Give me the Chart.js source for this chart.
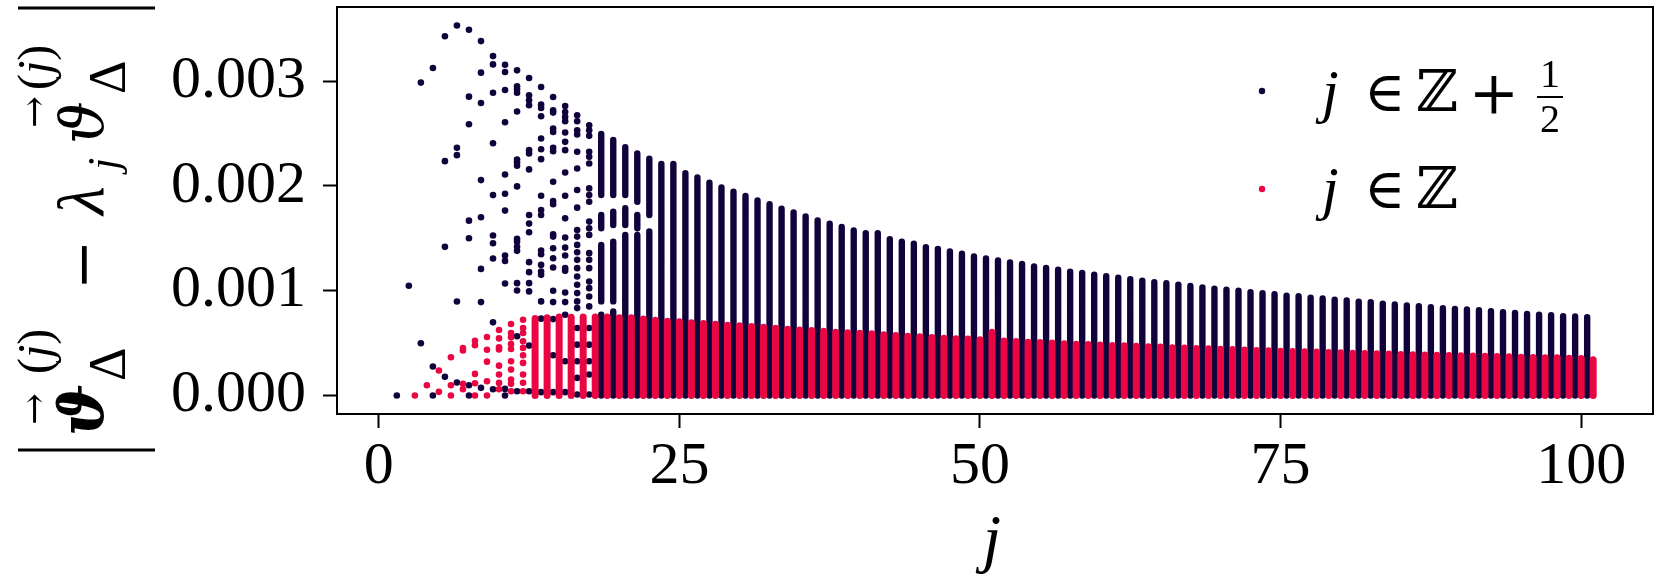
<!DOCTYPE html>
<html lang="en">
<head>
<meta charset="UTF-8">
<title>Residual vs j</title>
<style>
  html, body { margin: 0; padding: 0; background: #fff; }
  #wrap { width: 1661px; height: 582px; }
</style>
<script src="https://cdn.jsdelivr.net/npm/chart.js"></script>
</head>
<body>
<div id="wrap"><canvas id="c" width="1661" height="582"></canvas></div>
<script>
// all values in units of 1e-3

// j in Z + 1/2, low j: single points per column
const navyPointJ = [1.5, 2.5, 3.5, 4.5, 5.5, 6.5, 7.5, 8.5, 9.5, 10.5, 11.5, 12.5, 13.5, 14.5, 15.5, 16.5, 17.5];
const navyPointVals = [
  [0],
  [1.047],
  [2.985, 0.498],
  [3.124, 0.276, 0],
  [3.428, 2.236, 1.418, 0.178],
  [3.530, 2.363, 2.293, 0.897, 0.124],
  [3.489, 2.851, 2.588, 1.668, 1.500, 0.098, 0],
  [3.381, 3.080, 2.791, 2.055, 1.700, 1.208, 0.891, 0.073],
  [3.238, 3.159, 2.889, 2.407, 1.912, 1.526, 1.453, 1.307, 0.698, 0.060],
  [3.156, 3.086, 2.915, 2.607, 2.109, 1.925, 1.764, 1.335, 1.284, 1.069, 0.063, 0],
  [3.102, 2.950, 2.921, 2.889, 2.709, 2.252, 2.226, 2.192, 1.995, 1.494, 1.468, 1.418, 1.380, 1.072, 1.002, 0.565, 0.041],
  [3.029, 2.864, 2.816, 2.769, 2.341, 2.309, 2.157, 1.722, 1.640, 1.557, 1.272, 1.177, 1.072, 0.993, 0.476, 0.041],
  [2.943, 2.775, 2.743, 2.664, 2.452, 2.350, 2.255, 1.906, 1.770, 1.722, 1.383, 1.348, 1.246, 1.183, 1.151, 0.898, 0.733, 0.032],
  [2.848, 2.721, 2.699, 2.547, 2.515, 2.363, 2.331, 2.039, 1.855, 1.824, 1.538, 1.516, 1.405, 1.310, 1.221, 0.999, 0.891, 0.729, 0.384, 0.032],
  [2.762, 2.705, 2.658, 2.617, 2.509, 2.420, 2.341, 2.128, 1.906, 1.690, 1.507, 1.411, 1.335, 1.215, 1.189, 0.983, 0.891, 0.771, 0.327, 0.032],
  [2.674, 2.617, 2.531, 2.490, 2.325, 2.166, 1.960, 1.792, 1.579, 1.516, 1.437, 1.367, 1.294, 1.215, 1.136, 1.056, 0.977, 0.898, 0.834, 0.644, 0.485, 0.327, 0.168, 0.010],
  [2.578, 2.531, 2.477, 2.325, 2.277, 2.214, 1.976, 1.912, 1.849, 1.659, 1.595, 1.532, 1.358, 1.294, 1.215, 1.088, 1.024, 0.945, 0.850, 0.644, 0.485, 0.327, 0.200, 0.010]
];

// j in Z + 1/2, middle j: columns with gaps, [low, high] runs of dots
const navySpanJ = [18.5, 19.5, 20.5, 21.5, 22.5];
const navySpans = [
  [[1.912, 2.495], [1.595, 1.722], [0.898, 1.437], [0, 0.771]],
  [[1.912, 2.437], [1.627, 1.754], [0.898, 1.468], [0, 0.802]],
  [[1.912, 2.370], [1.627, 1.786], [0, 1.532]],
  [[1.849, 2.310], [1.595, 1.722], [0, 1.532]],
  [[1.722, 2.260], [0, 1.564]]
];

// j in Z + 1/2 from 23.5 on: dense columns from 0 up to the top value
const navyColStart = 23.5;
const navyColTop = [
  2.21, 2.21, 2.12, 2.08, 2.03, 1.985, 1.945, 1.904, 1.86, 1.825,
  1.781, 1.746, 1.708, 1.670, 1.638, 1.607, 1.575, 1.549, 1.549, 1.492,
  1.467, 1.448, 1.416, 1.397, 1.375, 1.353, 1.327, 1.308, 1.289, 1.270,
  1.254, 1.232, 1.216, 1.201, 1.182, 1.169, 1.153, 1.137, 1.124, 1.109,
  1.096, 1.080, 1.071, 1.058, 1.045, 1.032, 1.020, 1.010, 1.001, 0.985,
  0.975, 0.966, 0.953, 0.947, 0.934, 0.925, 0.915, 0.906, 0.896, 0.890,
  0.877, 0.868, 0.858, 0.852, 0.842, 0.833, 0.826, 0.820, 0.814, 0.804,
  0.795, 0.788, 0.779, 0.772, 0.766, 0.757, 0.753, 0.747
];

// j in Z, low j: single points
const redPointJ = [3, 4, 5, 6, 7, 8, 9, 10, 11, 12];
const redPointVals = [
  [0],
  [0.098],
  [0.238, 0.035],
  [0.365, 0.098, 0],
  [0.453, 0.430, 0.111, 0.060],
  [0.523, 0.480, 0.206, 0.117, 0],
  [0.558, 0.437, 0.323, 0.136, 0],
  [0.625, 0.545, 0.460, 0.440, 0.285, 0.200, 0.120, 0.060],
  [0.682, 0.596, 0.555, 0.492, 0.444, 0.327, 0.247, 0.152, 0.111, 0.041],
  [0.723, 0.644, 0.596, 0.517, 0.454, 0.384, 0.311, 0.200, 0.121, 0.041]
];

// j in Z from 13 on: dense columns
const redColStart = 13;
const redColTop = [
  0.735, 0.741, 0.750, 0.747, 0.750, 0.750, 0.750, 0.741, 0.741, 0.731,
  0.719, 0.709, 0.703, 0.693, 0.687, 0.680, 0.671, 0.665, 0.658, 0.652,
  0.642, 0.633, 0.626, 0.620, 0.614, 0.604, 0.598, 0.595, 0.589, 0.579,
  0.572, 0.566, 0.560, 0.554, 0.547, 0.541, 0.538, 0.531, 0.604, 0.519,
  0.516, 0.509, 0.506, 0.500, 0.493, 0.490, 0.487, 0.481, 0.478, 0.474,
  0.471, 0.465, 0.462, 0.455, 0.452, 0.449, 0.446, 0.442, 0.439, 0.433,
  0.430, 0.427, 0.423, 0.420, 0.417, 0.414, 0.411, 0.408, 0.404, 0.401,
  0.398, 0.395, 0.392, 0.389, 0.386, 0.385, 0.382, 0.379, 0.376, 0.374,
  0.371, 0.369, 0.366, 0.363, 0.361, 0.359, 0.356, 0.354, 0.340
];

const xTicks = [0, 25, 50, 75, 100];
const yTicks = [0, 0.001, 0.002, 0.003];

const NAVY = 'rgb(18, 2, 60)';
const RED = 'rgb(234, 6, 66)';
const SERIF = "'Liberation Serif', 'DejaVu Serif', serif";
const MATH = "'DejaVu Serif', 'Liberation Serif', serif";

function pointsOf(js, vals) {
  const out = [];
  js.forEach((j, i) => vals[i].forEach(v => out.push({x: j, y: v / 1000})));
  return out;
}
// each column is a list of [low, high] runs; a null breaks the line between runs
function spansOf(js, spans) {
  const out = [];
  js.forEach((j, i) => spans[i].forEach(([lo, hi]) => {
    out.push({x: j, y: lo / 1000}, {x: j, y: hi / 1000}, {x: j, y: null});
  }));
  return out;
}
function columnsOf(start, tops) {
  return spansOf(tops.map((_, i) => start + i), tops.map(t => [[0, t]]));
}

function txt(ctx, s, x, y, font, align) {
  ctx.font = font;
  ctx.textAlign = align || 'left';
  ctx.fillText(s, x, y);
  return ctx.measureText(s).width;
}

const mathText = {
  id: 'mathText',
  afterDraw(chart) {
    const {ctx, chartArea: a} = chart;
    ctx.save();
    ctx.strokeStyle = '#000';
    ctx.fillStyle = '#000';
    ctx.lineWidth = 2;
    ctx.strokeRect(a.left, a.top, a.right - a.left, a.bottom - a.top);

    // legend
    ctx.textBaseline = 'alphabetic';
    ctx.fillStyle = NAVY;
    ctx.beginPath(); ctx.arc(1262, 91, 3.2, 0, 2 * Math.PI); ctx.fill();
    ctx.fillStyle = RED;
    ctx.beginPath(); ctx.arc(1262, 189, 3.2, 0, 2 * Math.PI); ctx.fill();
    ctx.fillStyle = '#000';
    [111, 208].forEach(b => {
      txt(ctx, 'j', 1322, b, `italic 60px ${SERIF}`);
      txt(ctx, '∈', 1364, b, `56px ${MATH}`);
      txt(ctx, 'ℤ', 1416, b, `58px ${MATH}`);
    });
    txt(ctx, '+', 1494, 113, `60px ${MATH}`, 'center');
    txt(ctx, '1', 1550, 87, `40px ${SERIF}`, 'center');
    txt(ctx, '2', 1550, 132, `40px ${SERIF}`, 'center');
    ctx.lineWidth = 2;
    ctx.beginPath(); ctx.moveTo(1537, 97); ctx.lineTo(1563, 97); ctx.stroke();

    // x title
    txt(ctx, 'j', 992, 560, `italic 66px ${SERIF}`, 'center');

    // y title, rotated
    ctx.translate(103, 450);
    ctx.rotate(-Math.PI / 2);
    ctx.lineWidth = 3;
    ctx.beginPath();
    ctx.moveTo(0, -85); ctx.lineTo(0, 52);
    ctx.moveTo(442, -85); ctx.lineTo(442, 52);
    ctx.stroke();
    txt(ctx, 'ϑ', 14, 0, `bold italic 62px ${MATH}`);
    txt(ctx, '→', 25, -56, `38px ${MATH}`);
    let u = 76;
    u += txt(ctx, '(', u, -52, `48px ${SERIF}`);
    u += txt(ctx, 'j', u, -52, `italic 48px ${SERIF}`);
    txt(ctx, ')', u, -52, `48px ${SERIF}`);
    txt(ctx, 'Δ', 69, 22, `52px ${SERIF}`);
    txt(ctx, '−', 160, 0, `60px ${MATH}`);
    txt(ctx, 'λ', 235, 0, `italic 66px ${SERIF}`);
    txt(ctx, 'j', 280, 15, `italic 44px ${SERIF}`);
    txt(ctx, 'ϑ', 306, 0, `italic 60px ${MATH}`);
    txt(ctx, '→', 322, -56, `38px ${MATH}`);
    u = 360;
    u += txt(ctx, '(', u, -52, `48px ${SERIF}`);
    u += txt(ctx, 'j', u, -52, `italic 48px ${SERIF}`);
    txt(ctx, ')', u, -52, `48px ${SERIF}`);
    txt(ctx, 'Δ', 356, 22, `52px ${SERIF}`);
    ctx.restore();
  }
};

const tickFont = {family: SERIF, size: 60, lineHeight: 1.2};

new Chart(document.getElementById('c'), {
  type: 'scatter',
  data: {
    datasets: [
      {
        label: 'j ∈ ℤ', data: pointsOf(redPointJ, redPointVals), order: 0,
        pointRadius: 3.3, pointBorderWidth: 0, backgroundColor: RED
      },
      {
        label: 'j ∈ ℤ cols', data: columnsOf(redColStart, redColTop), order: 1,
        showLine: true, pointRadius: 0, borderWidth: 7, borderColor: RED,
        borderCapStyle: 'round', spanGaps: false
      },
      {
        label: 'j ∈ ℤ + 1/2', data: pointsOf(navyPointJ, navyPointVals), order: 2,
        pointRadius: 3.3, pointBorderWidth: 0, backgroundColor: NAVY
      },
      {
        label: 'j ∈ ℤ + 1/2 runs', data: spansOf(navySpanJ, navySpans), order: 3,
        showLine: true, pointRadius: 0, borderWidth: 6.4, borderColor: NAVY,
        borderCapStyle: 'round', spanGaps: false
      },
      {
        label: 'j ∈ ℤ + 1/2 cols', data: columnsOf(navyColStart, navyColTop), order: 4,
        showLine: true, pointRadius: 0, borderWidth: 6.4, borderColor: NAVY,
        borderCapStyle: 'round', spanGaps: false
      }
    ]
  },
  options: {
    responsive: false,
    animation: false,
    events: [],
    layout: {padding: {left: 0, top: 7, right: 8, bottom: 0}},
    plugins: {legend: {display: false}, tooltip: {enabled: false}},
    scales: {
      x: {
        type: 'linear', min: -3.475, max: 105.975,
        afterFit: s => { s.height = 168; s.paddingLeft = 0; s.paddingRight = 0; },
        afterBuildTicks: s => { s.ticks = xTicks.map(v => ({value: v})); },
        grid: {drawOnChartArea: false, drawTicks: true, tickLength: 14, tickWidth: 2, tickColor: '#000'},
        border: {display: true, color: '#000', width: 2},
        ticks: {font: tickFont, color: '#000', padding: 3, autoSkip: false, maxRotation: 0,
                callback: v => String(v)}
      },
      y: {
        type: 'linear', min: -0.0001765, max: 0.0037065,
        afterFit: s => { s.width = 337; s.paddingTop = 0; s.paddingBottom = 0; },
        afterBuildTicks: s => { s.ticks = yTicks.map(v => ({value: v})); },
        grid: {drawOnChartArea: false, drawTicks: true, tickLength: 14, tickWidth: 2, tickColor: '#000'},
        border: {display: true, color: '#000', width: 2},
        ticks: {font: tickFont, color: '#000', padding: 17, callback: v => v.toFixed(3)}
      }
    }
  },
  plugins: [mathText]
});
</script>
</body>
</html>
